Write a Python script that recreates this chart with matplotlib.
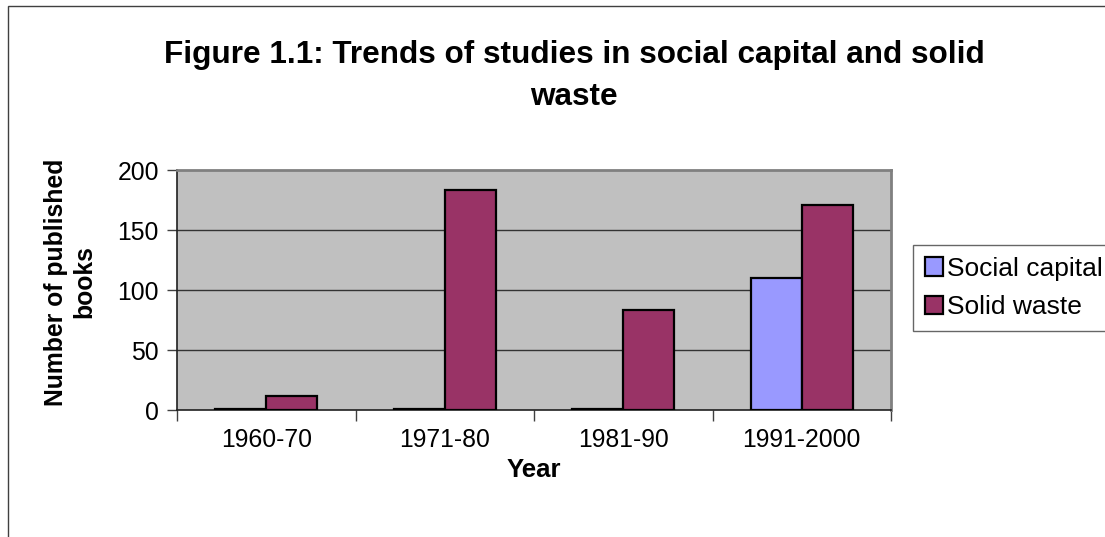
import numpy as np
import matplotlib
matplotlib.use("Agg")
import matplotlib.pyplot as plt
from matplotlib.patches import Rectangle

plt.rcParams['font.family'] = ['Liberation Sans', 'DejaVu Sans']

# data
periods = ["1960-70", "1971-80", "1981-90", "1991-2000"]
social_capital = [1, 1, 1, 110]
solid_waste = [12, 183, 83, 171]
y_ticks = [0, 50, 100, 150, 200]

W, H = 1105, 537
fig = plt.figure(figsize=(W / 100, H / 100), dpi=100)

# outer chart border (only left and top visible)
fig.patches.append(Rectangle((8 / W, -0.1), 2.0, 1 - 6 / H + 0.1,
                             transform=fig.transFigure, fill=False,
                             edgecolor='#404040', linewidth=1.0))

ax = fig.add_axes([177 / W, 1 - 410 / H, (891 - 177) / W, (410 - 170) / H])
ax.set_facecolor('#C0C0C0')

x = np.arange(len(periods))
w = 1 / 3.5
ax.bar(x - w / 2, social_capital, w, color='#9999FF', edgecolor='black',
       linewidth=1.6, label='Social capital', zorder=3)
ax.bar(x + w / 2, solid_waste, w, color='#993366', edgecolor='black',
       linewidth=1.6, label='Solid waste', zorder=3)

ax.set_xlim(-0.5, len(periods) - 0.5)
ax.set_ylim(0, 200)
ax.set_yticks(y_ticks)
ax.set_yticklabels([str(v) for v in y_ticks], fontsize=17.8)
ax.tick_params(axis='y', length=7, width=1, color='#404040', pad=6)

# category labels in the middle, tick marks on the boundaries
ax.set_xticks(x)
ax.set_xticklabels(periods, fontsize=17.8)
ax.tick_params(axis='x', which='major', length=0, pad=13)
ax.set_xticks(np.arange(len(periods) + 1) - 0.5, minor=True)
ax.tick_params(axis='x', which='minor', length=8, width=1, color='#404040')

for v in y_ticks[1:-1]:
    ax.axhline(v, color='#333333', linewidth=1.0, zorder=1)

for s in ['top', 'right']:
    ax.spines[s].set_color('#808080')
    ax.spines[s].set_linewidth(2)
for s in ['left', 'bottom']:
    ax.spines[s].set_color('#202020')
    ax.spines[s].set_linewidth(1.2)

ax.set_xlabel("Year", fontsize=18.5, fontweight='bold', labelpad=4)
fig.text(70 / W, 1 - 282 / H, "Number of published\nbooks", rotation=90,
         ha='center', va='center', fontsize=17.8, fontweight='bold',
         multialignment='center', linespacing=1.25)

fig.text(574 / W, 1 - 76 / H,
         "Figure 1.1: Trends of studies in social capital and solid\nwaste",
         ha='center', va='center', fontsize=22.7, fontweight='bold',
         multialignment='center', linespacing=1.48)

leg = fig.legend(loc='upper left', bbox_to_anchor=(913 / W, 1 - 245 / H),
                 fontsize=19, frameon=True, fancybox=False,
                 handlelength=0.7, handleheight=0.7, handletextpad=0.15,
                 borderpad=0.45, labelspacing=0.55, borderaxespad=0)
leg.get_frame().set_edgecolor('#404040')
leg.get_frame().set_linewidth(1.0)

fig.savefig("out.png", dpi=100)
